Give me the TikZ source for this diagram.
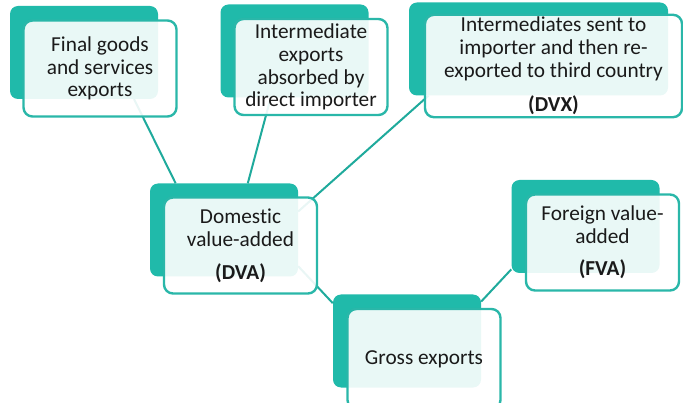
\documentclass[tikz,border=0pt]{standalone}
\usepackage{fontspec}
\setmainfont{Carlito}[Ligatures=NoCommon]
\usepackage{xcolor}
\usepackage{tikz}
\definecolor{tealback}{HTML}{20BAAA}
\definecolor{tealline}{HTML}{1FAA9C}
\definecolor{tealedge}{HTML}{2AB7A9}
\definecolor{inktext}{HTML}{1A1A1A}
\tikzset{
  backbox/.style={fill=tealback,rounded corners=8pt,minimum width=148pt,minimum height=93pt,inner sep=0pt},
  frontbox/.style={draw=tealedge,line width=2.4pt,fill=white,fill opacity=0.9,text opacity=1,
    rounded corners=9pt,minimum width=153pt,minimum height=96pt,align=center,inner sep=2pt,
    text=inktext,font=\fontsize{21.3}{22.8}\selectfont},
  link/.style={draw=tealline,line width=2pt}
}

\begin{document}
\begin{tikzpicture}[x=1pt,y=-1pt]
  \useasboundingbox (0,0) rectangle (683,403);
  \node[backbox] (fin-back) at (84,52.5) {};
  \node[backbox] (int-back) at (294.5,51) {};
  \node[backbox,minimum width=259pt] (dvx-back) at (538.5,49) {};
  \node[backbox] (dva-back) at (224,230) {};
  \node[backbox] (fva-back) at (585.5,226.5) {};
  \node[backbox] (gro-back) at (407,341) {};
  \draw[link] (fin-back.-43) -- (dva-back.136.5);
  \draw[link] (int-back.-117) -- (dva-back.63.4);
  \draw[link] (dvx-back.-157.3) -- (dva-back.14.4);
  \draw[link] (dva-back.-26) -- (gro-back.153);
  \draw[link] (gro-back.28.7) -- (fva-back.-150.5);
  \node[frontbox] (fin) at (100,68.5) {Final goods\\and services\\exports};
  \node[frontbox] (int) at (311,67) {Intermediate\\exports\\absorbed by\\direct importer};
  \node[frontbox,minimum width=257pt,minimum height=94pt] (dvx) at (553.5,66)
    {Intermediates sent to\\importer and then re-\\exported to third country\\[12pt]\textbf{(DVX)}};
  \node[frontbox] (dva) at (240.5,245.5) {Domestic\\value-added\\[10pt]\textbf{(DVA)}};
  \node[frontbox] (fva) at (602.5,242.5) {Foreign value-\\added\\[9pt]\textbf{(FVA)}};
  \node[frontbox,minimum height=100pt] (gro) at (424,359) {Gross exports};
\end{tikzpicture}
\end{document}
